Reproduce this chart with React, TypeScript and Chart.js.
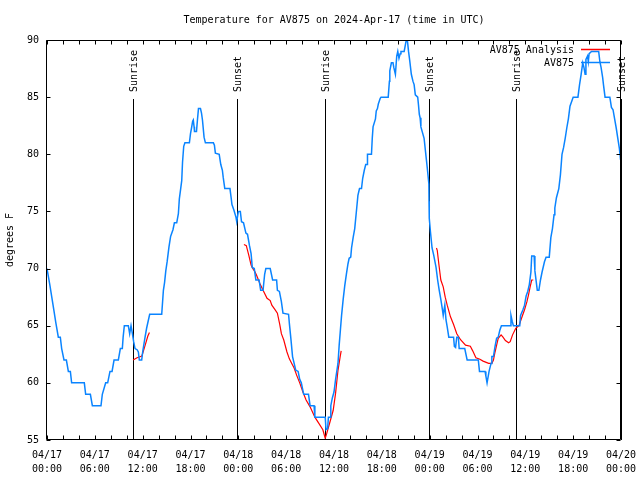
import { useEffect, useRef } from 'react';
import { Chart, registerables } from 'chart.js';

Chart.register(...registerables);

const TITLE = 'Temperature for AV875 on 2024-Apr-17 (time in UTC)';
const Y_TITLE = 'degrees F';
const MONTH = '04';
const START_DAY = 17;
const X_MIN = 0;
const X_MAX = 72;
const X_STEP = 2;
const X_LABEL_EVERY = 6;
const Y_MIN = 55;
const Y_MAX = 90;
const Y_STEP = 5;

const SERIES_LABELS = ['AV875 Analysis', 'AV875'];
const SERIES_COLORS = ['#ff0000', '#0a84ff'];

// Observations (hours since 04/17 00:00 UTC, degrees F)
const obsHours = [
  0, 0.1, 0.35, 0.6, 0.85, 1.1, 1.42, 1.67, 1.84, 2.13, 2.43, 2.68, 2.93, 3.09, 4.68, 4.85, 5.44, 5.69, 6.77, 6.94,
  7.36, 7.61, 7.9, 8.16, 8.41, 8.95, 9.2, 9.45, 9.55, 9.7, 10.2, 10.37, 10.54, 10.71, 10.87, 11.04, 11.3, 11.46, 11.58, 11.88,
  12.0, 12.3, 12.5, 12.88, 14.39, 14.6, 14.75, 14.9, 15.07, 15.3, 15.5, 15.6, 15.8, 15.98, 16.27, 16.48, 16.6, 16.77, 16.9, 17.0,
  17.15, 17.3, 17.86, 18.0, 18.13, 18.27, 18.35, 18.45, 18.5, 18.75, 18.87, 19.0, 19.25, 19.38, 19.5, 19.7, 19.87, 20.87, 21.0, 21.12,
  21.6, 21.8, 22.0, 22.1, 22.3, 22.95, 23.08, 23.2, 23.45, 23.7, 23.8, 24.0, 24.25, 24.4, 24.65, 24.95, 25.15, 25.4, 25.6, 25.75,
  26.0, 26.2, 26.6, 26.8, 27.1, 27.3, 27.45, 28.0, 28.3, 28.8, 28.9, 29.15, 29.4, 29.6, 30.3, 30.4, 30.6, 30.8, 31.0, 31.2,
  31.5, 31.7, 31.9, 32.05, 32.2, 32.8, 33.0, 33.5, 33.6, 34.9, 35.0, 35.2, 35.3, 35.5, 35.6, 35.8, 36.0, 36.2, 36.5, 36.65,
  36.8, 36.95, 37.15, 37.35, 37.55, 37.75, 37.9, 38.1, 38.2, 38.4, 38.6, 38.85, 39.0, 39.2, 39.45, 39.6, 39.8, 39.98, 40.15, 40.2,
  40.7, 40.8, 40.9, 41.2, 41.3, 41.45, 41.56, 41.8, 41.9, 42.8, 42.95, 43.0, 43.2, 43.4, 43.5, 43.7, 43.87, 44.0, 44.15, 44.3,
  44.4, 44.8, 45.04, 45.2, 45.35, 45.5, 45.7, 45.9, 46.05, 46.2, 46.5, 46.6, 46.7, 46.8, 46.9, 47.3, 47.5, 47.7, 47.9, 47.92,
  47.95, 48.1, 48.3, 48.5, 48.8, 49.0, 49.2, 49.4, 49.6, 49.7, 49.9, 50.05, 50.2, 50.4, 51.0, 51.1, 51.25, 51.4, 51.6, 51.7,
  52.4, 52.7, 54.1, 54.25, 54.95, 55.05, 55.2, 55.45, 55.7, 55.8, 56.0, 56.2, 56.4, 56.6, 56.8, 57.0, 58.1, 58.2, 58.35, 58.5,
  59.3, 59.4, 59.7, 59.9, 60.1, 60.3, 60.5, 60.7, 60.8, 61.1, 61.2, 61.5, 61.7, 61.9, 62.1, 62.4, 62.6, 63.0, 63.2, 63.4,
  63.6, 63.7, 63.9, 64.2, 64.4, 64.6, 64.8, 65.0, 65.2, 65.4, 65.6, 65.8, 66.0, 66.6, 66.8, 67.0, 67.2, 67.35, 67.5, 67.6,
  67.8, 67.9, 68.0, 68.3, 69.2, 69.35, 69.5, 69.7, 69.8, 70.0, 70.6, 70.8, 71.0, 71.2, 71.4, 71.6, 71.8, 71.95,
];
const obsTemps = [
  70, 70, 68.6, 67.5, 66.4, 65.3, 64, 64, 63, 62, 62, 61, 61, 60, 60, 59, 59, 58, 58, 59,
  60, 60, 61, 61, 62, 62, 63, 63, 64, 65, 65, 64.3, 65, 64.3, 63.6, 63, 62.9, 62.7, 62, 62,
  62.7, 64, 64.8, 66, 66, 68.1, 68.8, 69.8, 70.6, 71.9, 72.8, 73, 73.4, 74, 74, 74.8, 76.1, 77, 77.7, 79.3,
  80.7, 81, 81, 81.8, 82.3, 82.9, 83, 82.4, 82, 82, 83, 84, 84, 83.6, 83, 81.5, 81, 81, 80.8, 80.1,
  80, 79.1, 78.6, 78, 77, 77, 76.3, 75.6, 75.1, 74.5, 74.1, 75, 75, 74.1, 74, 73.1, 73, 72, 71.3, 70.1,
  70, 69, 69, 68.1, 68.1, 69.5, 70, 70, 69, 69, 68.1, 68, 67.1, 66.1, 66, 65.2, 63.8, 62.3, 61.7, 61.1,
  61, 60.3, 60, 59.5, 59, 59, 58, 58, 57, 57, 55.9, 56, 57, 57, 58, 58.7, 59.2, 60.3, 61.7, 63.3,
  64.6, 65.9, 67.3, 68.5, 69.5, 70.4, 70.9, 71, 71.8, 72.7, 73.5, 75.3, 76.4, 77, 77, 77.9, 78.6, 79.1, 79.1, 80,
  80, 81.4, 82.4, 83.1, 83.8, 84, 84.4, 84.9, 85, 85, 86.4, 87.3, 88, 88, 87.6, 87, 88.6, 89, 88.4, 88.8,
  89, 89, 89.9, 90, 89, 88.2, 87, 86.4, 86.1, 85.2, 85, 84.3, 83.5, 83.2, 82.4, 81.4, 80.1, 78.8, 77.4, 75.9,
  74.4, 73.2, 71.8, 71.2, 70.1, 69, 68.1, 67.3, 66.4, 65.9, 66.8, 65.5, 64.9, 64, 64, 63.2, 63.1, 64, 64, 63,
  63, 62, 62, 61, 61, 60.6, 60, 61, 61.7, 62.3, 62.3, 63.2, 63.9, 64, 64.6, 65, 65, 65.9, 65.4, 65,
  65, 65.9, 66.4, 66.8, 67.6, 68, 68.6, 69.7, 71.1, 71.1, 69.8, 68.1, 68.1, 69, 69.7, 70.6, 71, 71, 72.7, 73.5,
  74.7, 75.3, 76.2, 77, 78.2, 80, 80.6, 81.4, 82.3, 83.1, 84.2, 84.6, 85, 85, 86.1, 87, 88, 87.6, 87, 88.3,
  88.6, 88.1, 88.8, 89, 89, 88.1, 87.6, 86.7, 86.1, 85, 85, 84.1, 83.9, 83.1, 82.3, 81.4, 80.5, 79.5,
];

// Analysis (three runs, null separates them)
const anaHours = [
  10.8, 11.3, 11.9, 12.1, 12.4, 12.65, 12.85, 12.9,
  24.7, 25.0, 25.3, 25.6, 25.8, 26.1, 26.3, 26.7, 27.1, 27.6, 28.0, 28.2, 28.6, 28.9, 29.2, 29.4, 29.7, 30.1, 30.4, 30.7,
  31.0, 31.3, 31.7, 32.1, 32.5, 33.0, 33.6, 34.1, 34.6, 34.9, 35.1, 35.5, 35.9, 36.2, 36.5, 36.8, 36.9, 37.0,
  48.85, 48.95, 49.15, 49.4, 49.7, 49.95, 50.2, 50.6, 51.0, 51.4, 51.9, 52.5, 53.1, 53.4, 53.8, 54.3, 54.7, 55.4, 55.8, 56.0,
  56.2, 56.4, 56.6, 56.96, 57.2, 57.5, 57.9, 58.1, 58.4, 58.8, 59.2, 59.6, 59.9, 60.2, 60.4, 60.6, 60.8, 61.0,
];
const anaTemps = [
  62.0, 62.2, 62.35, 62.8, 63.5, 64.1, 64.4, null,
  72.1, 72.0, 71.2, 70.3, 70.0, 69.7, 69.4, 68.7, 68.1, 67.4, 67.2, 66.8, 66.4, 66.1, 65.1, 64.3, 63.75, 62.7, 62.1, 61.7,
  61.3, 60.7, 60.0, 59.2, 58.5, 57.9, 57.0, 56.45, 55.9, 55.15, 55.6, 56.6, 57.6, 59.1, 61.1, 62.4, 62.8, null,
  71.8, 71.6, 70.4, 69.0, 68.4, 67.5, 66.8, 65.8, 65.1, 64.3, 63.75, 63.3, 63.2, 62.8, 62.2, 62.06, 61.9, 61.7, 61.7, 62.0,
  62.7, 63.3, 63.9, 64.2, 64.0, 63.7, 63.5, 63.6, 64.2, 64.77, 65.0, 65.8, 66.4, 67.1, 67.7, 68.4, 69.0, 69.0,
];

const sunHours = [10.8, 23.85, 34.9, 47.95, 58.85, 71.98];
const sunLabels = ['Sunrise', 'Sunset', 'Sunrise', 'Sunset', 'Sunrise', 'Sunset'];

const FONT_FAMILY = '"DejaVu Sans Mono", "Liberation Mono", monospace';
const FONT = `10px ${FONT_FAMILY}`;

const pad2 = (n: number) => (n < 10 ? '0' + n : '' + n);

const decorPlugin = {
  id: 'decor',
  beforeDatasetsDraw(chart: any) {
    const { ctx, chartArea: a, scales } = chart;
    const x = scales.x;
    ctx.save();
    ctx.strokeStyle = '#000';
    ctx.fillStyle = '#000';
    ctx.lineWidth = 1;
    ctx.font = FONT;
    sunHours.forEach((h, i) => {
      const px = Math.round(x.getPixelForValue(h)) + 0.5;
      ctx.beginPath();
      ctx.moveTo(px, a.top + 59);
      ctx.lineTo(px, a.bottom);
      ctx.stroke();
      ctx.save();
      ctx.translate(px + 1, a.top + 52);
      ctx.rotate(-Math.PI / 2);
      ctx.textAlign = 'left';
      ctx.textBaseline = 'middle';
      ctx.fillText(sunLabels[i], 0, 0);
      ctx.restore();
    });
    ctx.restore();
  },
  afterDatasetsDraw(chart: any) {
    const { ctx, chartArea: a, scales } = chart;
    const x = scales.x;
    const y = scales.y;
    ctx.save();
    ctx.strokeStyle = '#000';
    ctx.lineWidth = 1;
    const L = Math.round(a.left) - 0.5;
    const R = Math.round(a.right) - 0.5;
    const T = Math.round(a.top) + 0.5;
    const B = Math.round(a.bottom) - 0.5;
    ctx.beginPath();
    ctx.rect(L, T, R - L, B - T);
    ctx.stroke();
    const tl = 4;
    ctx.beginPath();
    x.ticks.forEach((t: any) => {
      const px = Math.round(x.getPixelForValue(t.value)) + 0.5;
      ctx.moveTo(px, B);
      ctx.lineTo(px, B - tl);
      ctx.moveTo(px, T);
      ctx.lineTo(px, T + tl);
    });
    y.ticks.forEach((t: any) => {
      const py = Math.round(y.getPixelForValue(t.value)) + 0.5;
      ctx.moveTo(L, py);
      ctx.lineTo(L + tl, py);
      ctx.moveTo(R, py);
      ctx.lineTo(R - tl, py);
    });
    ctx.stroke();

    // title
    ctx.fillStyle = '#000';
    ctx.font = FONT;
    ctx.textAlign = 'center';
    ctx.textBaseline = 'middle';
    ctx.fillText(TITLE, (a.left + a.right) / 2, 20);

    // legend (series order: analysis, obs)
    const textRight = a.right - 47;
    const lineL = a.right - 40;
    const lineR = a.right - 11;
    SERIES_LABELS.forEach((lab, i) => {
      const ly = a.top + 10 + i * 13;
      ctx.textAlign = 'right';
      ctx.fillStyle = '#000';
      ctx.fillText(lab, textRight, ly);
      ctx.strokeStyle = SERIES_COLORS[i];
      ctx.lineWidth = 1.5;
      ctx.beginPath();
      ctx.moveTo(lineL, Math.round(ly - 1) + 0.5);
      ctx.lineTo(lineR, Math.round(ly - 1) + 0.5);
      ctx.stroke();
    });
    ctx.restore();
  },
};

export default function App() {
  const ref = useRef<HTMLCanvasElement | null>(null);
  useEffect(() => {
    document.body.style.margin = '0';
    const canvas = ref.current;
    if (!canvas) return;
    const obsData = obsHours.map((h, i) => ({ x: h, y: obsTemps[i] }));
    const anaData = anaHours.map((h, i) => ({ x: h, y: anaTemps[i] }));
    const chart = new Chart(canvas, {
      type: 'line',
      data: {
        datasets: [
          {
            label: SERIES_LABELS[1],
            data: obsData as any,
            borderColor: SERIES_COLORS[1],
            borderWidth: 1.5,
            pointRadius: 0,
            tension: 0,
            fill: false,
          },
          {
            label: SERIES_LABELS[0],
            data: anaData as any,
            borderColor: SERIES_COLORS[0],
            borderWidth: 1.2,
            pointRadius: 0,
            tension: 0,
            fill: false,
            spanGaps: false,
          },
        ],
      },
      plugins: [decorPlugin],
      options: {
        animation: false,
        responsive: false,
        devicePixelRatio: 1,
        layout: { padding: { top: 40, right: 19, left: 0, bottom: 0 } },
        plugins: {
          legend: { display: false },
          title: { display: false },
          tooltip: { enabled: false },
        },
        scales: {
          x: {
            type: 'linear',
            min: X_MIN,
            max: X_MAX,
            grid: { display: false, drawTicks: false },
            border: { display: false },
            afterFit: (s: any) => {
              s.height = 40;
              s.paddingLeft = 0;
              s.paddingRight = 0;
            },
            ticks: {
              stepSize: X_STEP,
              autoSkip: false,
              maxRotation: 0,
              minRotation: 0,
              padding: 8,
              color: '#000',
              font: { family: FONT_FAMILY, size: 10, lineHeight: 1.4 },
              callback: (v: any) => {
                const n = Number(v);
                if (n % X_LABEL_EVERY !== 0) return '';
                const day = START_DAY + Math.floor(n / 24);
                const hr = n % 24;
                return [`${MONTH}/${pad2(day)}`, `${pad2(hr)}:00`];
              },
            },
          },
          y: {
            type: 'linear',
            min: Y_MIN,
            max: Y_MAX,
            grid: { display: false, drawTicks: false },
            border: { display: false },
            afterFit: (s: any) => {
              s.width = 47;
              s.paddingTop = 0;
              s.paddingBottom = 0;
            },
            title: {
              display: true,
              text: Y_TITLE,
              color: '#000',
              font: { family: FONT_FAMILY, size: 10 },
              padding: { top: 4, bottom: 0 },
            },
            ticks: {
              stepSize: Y_STEP,
              padding: 8,
              color: '#000',
              font: { family: FONT_FAMILY, size: 10 },
            },
          },
        },
      },
    });
    return () => chart.destroy();
  }, []);
  return (
    <div style={{ width: 640, height: 480 }}>
      <canvas ref={ref} width={640} height={480} style={{ display: 'block' }} />
    </div>
  );
}
